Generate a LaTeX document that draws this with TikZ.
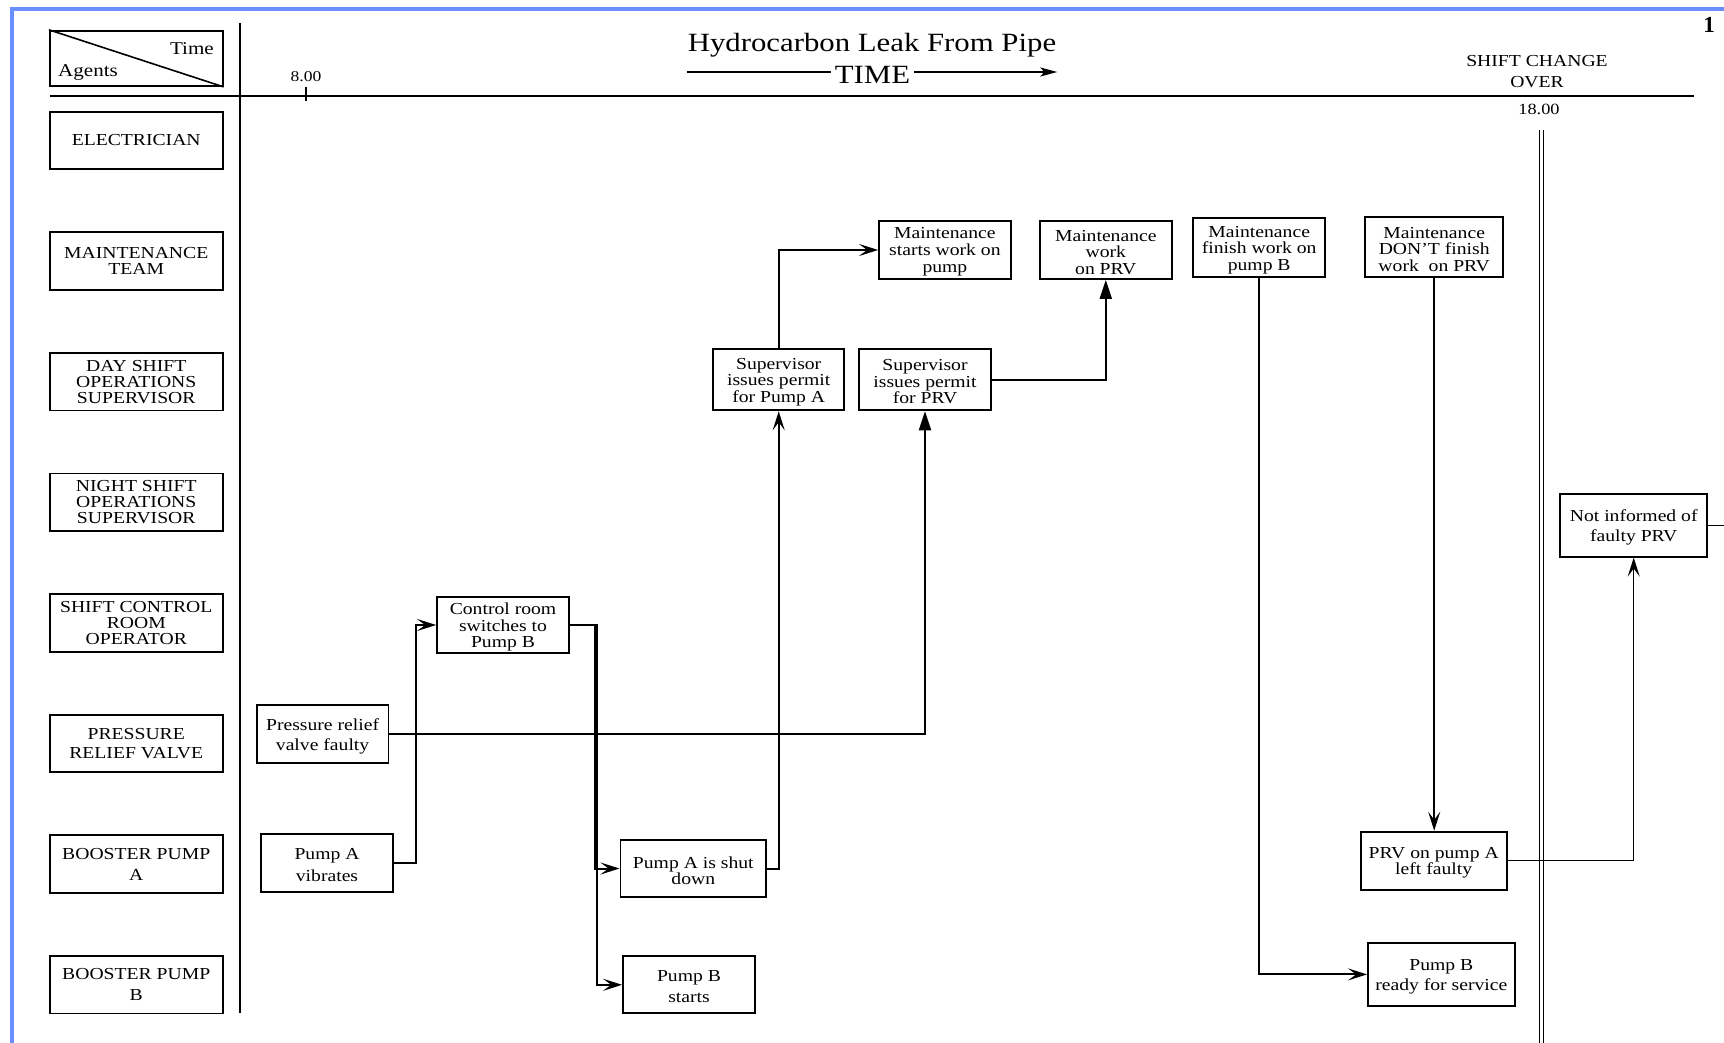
\documentclass[tikz,border=0pt]{standalone}
\usepackage{fontspec}
\setmainfont{Liberation Serif}
\newfontfamily\sq[FakeStretch=1.17]{Liberation Serif}
\usetikzlibrary{arrows.meta,calc}
\definecolor{frameblue}{RGB}{106,142,251}
\tikzset{
  box/.style={draw, line width=1.8pt, inner sep=0pt, align=center, font=\sq\fontsize{16.8}{16.5}\selectfont},
  bs/.style={font=\sq\fontsize{16.8}{#1}\selectfont},
  agent/.style={box, minimum width=172.9pt, minimum height=57.6pt},
  evbox/.style={draw, line width=1.8pt, inner sep=0pt},
  evtxt/.style={inner sep=0pt, align=center},
  txt/.style 2 args={label={[evtxt, bs=#1, yshift=-2.2pt]center:{#2}}},
  conn/.style={line width=2pt},
  thin/.style={line width=1.3pt},
  oa/.style={-{Stealth[length=19pt, width=12pt, inset=8pt]}},
  fa/.style={-{Triangle[length=19pt, width=12pt]}},
  axis/.style={line width=1.8pt},
  lbl/.style={inner sep=0pt},
}
\begin{document}
\begin{tikzpicture}[x=1pt,y=-1pt]
\useasboundingbox (0,0) rectangle (1724,1043);
\fill[white] (0,0) rectangle (1724,1043);
\draw[frameblue, line width=4pt] (12,1043) -- (12,9) -- (1724,9);

% title
\node[lbl, anchor=base, font=\sq\fontsize{26.3}{28}\selectfont] (title) at (872,52) {Hydrocarbon Leak From Pipe};
\node[lbl, anchor=base, font=\sq\fontsize{26.3}{28}\selectfont, inner xsep=4pt] (time) at (872.5,83.3) {TIME};
\coordinate (tl) at (687.3,72);
\coordinate (tr) at (1057.3,72);
\draw[line width=1.6pt] (tl) -- (tl -| time.west);
\draw[line width=1.6pt, -{Stealth[length=17pt, width=9pt, inset=4pt]}] (tr -| time.east) -- (tr);
\node[lbl, anchor=base, font=\bfseries\fontsize{23}{25}\selectfont] (pg) at (1709,33) {1};

% axes
\draw[axis] (49.8,96) -- (1694,96);
\draw[axis] (240.3,23.3) -- (240.3,1013);
\draw[axis] (306,86.7) -- (306,100.7);
\node[lbl, anchor=base, font=\sq\fontsize{15}{16}\selectfont] (t8) at (306,81.7) {8.00};
\node[lbl, anchor=base, font=\sq\fontsize{16.8}{18}\selectfont] (sc1) at (1537,67) {SHIFT CHANGE};
\node[lbl, anchor=base, font=\sq\fontsize{16.8}{18}\selectfont] (sc2) at (1537,88) {OVER};
\node[lbl, anchor=base, font=\sq\fontsize{15.6}{18}\selectfont] (t18) at (1539,114.5) {18.00};
\draw[line width=1.3pt] (1539.3,130) -- (1539.3,1043);
\draw[line width=1.3pt] (1543.3,130) -- (1543.3,1043);

% header box
\node[agent, minimum height=55.3pt] (hdr) at (136.25,58.35) {};
\draw[line width=1.6pt] (hdr.north west) -- (hdr.south east);
\node[lbl, anchor=base east, font=\sq\fontsize{18}{20}\selectfont] (htime) at (214,54.3) {Time};
\node[lbl, anchor=base west, font=\sq\fontsize{18}{20}\selectfont] (hag) at (58,76.7) {Agents};

% agents
\node[agent] (a1) at (136.25,140.5) {ELECTRICIAN};
\node[agent] (a2) at (136.25,261.1) {MAINTENANCE\\TEAM};
\node[agent, bs=16] (a3) at (136.25,381.7) {DAY SHIFT\\OPERATIONS\\SUPERVISOR};
\node[agent, bs=16] (a4) at (136.25,502.3) {NIGHT SHIFT\\OPERATIONS\\SUPERVISOR};
\node[agent, bs=16] (a5) at (136.25,622.9) {SHIFT CONTROL\\ROOM\\OPERATOR};
\node[agent, bs=19.8] (a6) at (136.25,743.5) {PRESSURE\\RELIEF VALVE};
\node[agent, bs=21] (a7) at (136.25,864.1) {BOOSTER PUMP\\A};
\node[agent, bs=21] (a8) at (136.25,984.7) {BOOSTER PUMP\\B};

% events
\node[evbox, minimum width=132pt, minimum height=56.6pt, txt={16.5}{Control room\\switches to\\Pump B}] (ctrl) at (503,625) {};
\node[evbox, minimum width=131.6pt, minimum height=58.3pt, txt={20.3}{Pressure relief\\valve faulty}] (prvf) at (322.6,733.9) {};
\node[evbox, minimum width=132pt, minimum height=58pt, txt={21.7}{Pump A\\vibrates}] (pav) at (327,863) {};
\node[evbox, minimum width=145.8pt, minimum height=57.6pt, txt={16}{Pump A is shut\\down}] (pas) at (693.3,868.5) {};
\node[evbox, minimum width=132pt, minimum height=57pt, txt={21}{Pump B\\starts}] (pbs) at (689,984.8) {};
\node[evbox, minimum width=131pt, minimum height=61.3pt, txt={16.5}{Supervisor\\issues permit\\for Pump A}] (supA) at (778.7,379.7) {};
\node[evbox, minimum width=131.9pt, minimum height=61.3pt, txt={16.5}{Supervisor\\issues permit\\for PRV}] (supP) at (925,379.7) {};
\node[evbox, minimum width=131.8pt, minimum height=58pt, txt={17}{Maintenance\\starts work on\\pump}] (mstart) at (944.9,250) {};
\node[evbox, minimum width=131.8pt, minimum height=58pt, txt={16.5}{Maintenance\\work\\on PRV}] (mprv) at (1105.8,250) {};
\node[evbox, minimum width=131.7pt, minimum height=59pt, txt={16.5}{Maintenance\\finish work on\\pump B}] (mfin) at (1259.2,247.8) {};
\node[evbox, minimum width=138.3pt, minimum height=60pt, txt={16.5}{Maintenance\\DON’T finish\\work\ \ on PRV}] (mdont) at (1434.2,247.3) {};
\node[evbox, minimum width=146pt, minimum height=58.3pt, txt={15.5}{PRV on pump A\\left faulty}] (prvl) at (1433.7,860.8) {};
\node[evbox, minimum width=146.7pt, minimum height=63.3pt, txt={20.3}{Pump B\\ready for service}] (pbr) at (1441.3,974.4) {};
\node[evbox, minimum width=147.3pt, minimum height=62.7pt, txt={20}{Not informed of\\faulty PRV}] (notinf) at (1633.7,525.3) {};

% connectors
\draw[conn, oa] (pav.east) -- ++(21.8,0) |- (ctrl.west);
\draw[conn, oa] (ctrl.east) -- ++(25.3,0) |- (pas.west);
\draw[conn, oa] (ctrl.east) -- ++(27,0) |- (pbs.west);
\draw[conn, oa] (pas.east) -| (supA.south);
\draw[conn, oa] (supA.north) |- (mstart.west);
\draw[conn, fa] (prvf.east) -| (supP.south);
\draw[conn, fa] (supP.east) -| (mprv.south);
\draw[conn, oa] (mfin.south) |- (pbr.west);
\draw[conn, oa] (mdont.south) -- (mdont.south |- prvl.north);
\draw[thin, oa] (prvl.east) -| (notinf.south);
\coordinate (edge) at (1724,525.3);
\draw[thin] (notinf.east) -- (edge);
\end{tikzpicture}
\end{document}
